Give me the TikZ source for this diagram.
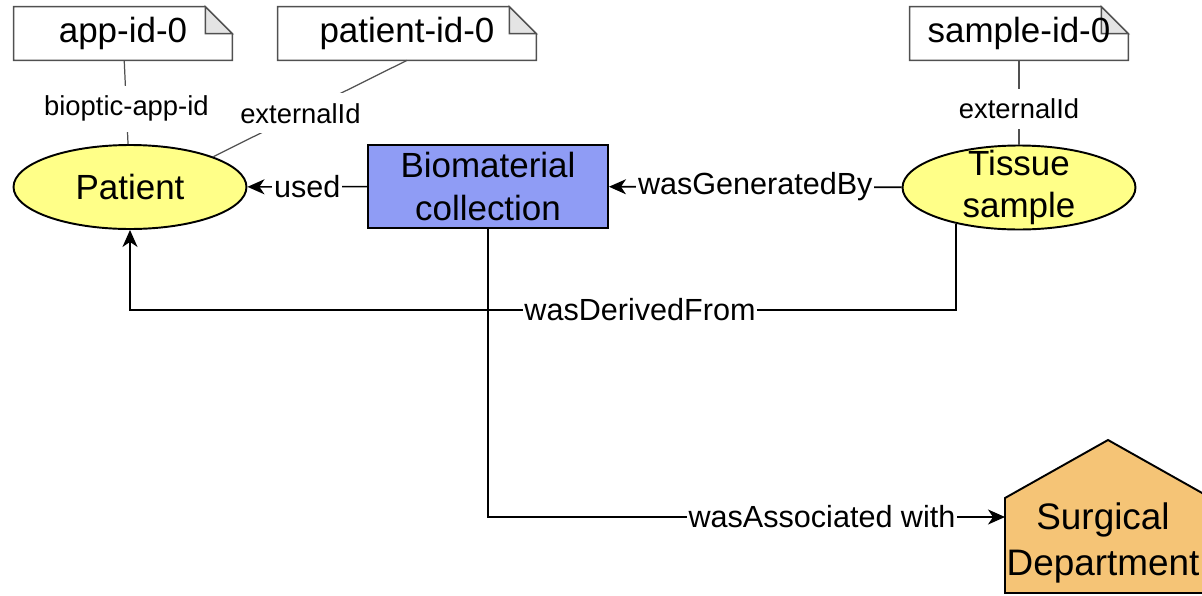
\documentclass[tikz,border=0pt]{standalone}
\usepackage{fontspec}
\setmainfont{Liberation Sans}
\usetikzlibrary{arrows.meta,shapes.geometric,backgrounds}
\definecolor{entyellow}{RGB}{255,255,136}
\definecolor{actblue}{RGB}{143,156,245}
\definecolor{agentorange}{RGB}{245,196,118}
\definecolor{foldgray}{RGB}{228,228,228}
\definecolor{notegray}{RGB}{80,80,80}

\begin{document}
\begin{tikzpicture}[x=0.02cm,y=-0.02cm,
    entity/.style={ellipse,draw,line width=1.1pt,fill=entyellow,minimum width=4.66cm,minimum height=1.68cm,inner sep=0pt},
    maintext/.style={align=center,font=\fontsize{19.9}{24}\selectfont},
    activity/.style={rectangle,draw,line width=1.1pt,fill=actblue,minimum width=4.8cm,minimum height=1.66cm,inner sep=0pt,maintext},
    agent/.style={rectangle,inner sep=0pt,align=center,font=\fontsize{21}{26}\selectfont},
    idnote/.style={rectangle,minimum height=1.06cm,inner sep=0pt,font=\fontsize{19.9}{24}\selectfont},
    notepen/.style={line width=0.8pt,draw=notegray},
    attr/.style={fill=white,inner xsep=0pt,inner ysep=0.2cm,font=\fontsize{15.6}{18}\selectfont},
    attrline/.style={line width=0.7pt,draw=notegray},
    rel/.style={fill=white,inner xsep=1pt,inner ysep=2pt,font=\fontsize{17.4}{21}\selectfont},
    link/.style={line width=0.9pt,-{Stealth[length=0.34cm,width=0.3cm,inset=0.1cm]}}]
\useasboundingbox (0,0) rectangle (1202,595);

% id notes
\node[idnote,minimum width=4.36cm] (appnote) at (123,33.5) {app-id-0};
\node[idnote,minimum width=5.16cm] (patnote) at (407,33.5) {patient-id-0};
\node[idnote,minimum width=4.36cm] (smpnote) at (1019,33.5) {sample-id-0};
\begin{scope}[on background layer]
\foreach \n in {appnote,patnote,smpnote}{
  \draw[notepen,fill=white] (\n.south west) -- (\n.north west) -- ([xshift=-0.54cm]\n.north east)
    -- ([yshift=-0.54cm]\n.north east) -- (\n.south east) -- cycle;
  \draw[notepen,fill=foldgray] ([xshift=-0.54cm]\n.north east) -- ([xshift=-0.54cm,yshift=-0.54cm]\n.north east)
    -- ([yshift=-0.54cm]\n.north east) -- cycle;
}
\end{scope}

% entities, activity, agent
\node[entity,label={[maintext]center:Patient}] (patient) at (130,187) {};
\node[entity,label={[maintext]center:Tissue\\sample}] (tissue) at (1019,187.5) {};
\node[activity] (bio) at (488,186.5) {Biomaterial\\collection};

\draw[line width=1.1pt,fill=agentorange] (1005,593) -- (1005,498) -- (1108,440) -- (1211,498) -- (1211,593) -- cycle;
\coordinate (surgwest) at (1005,545.5);
\node[agent] (surg) at (1103,543) {Surgical\\Department};

% attributes
\draw[attrline] (appnote) -- node[attr,pos=0.58] {bioptic-app-id} (patient);
\draw[attrline] (patnote.south) -- node[attr,pos=0.55] {externalId} (patient.20);
\draw[attrline] (smpnote) -- node[attr,pos=0.58] {externalId} (tissue);

% relations
\draw[link] (bio) -- node[rel] {used} (patient);
\draw[link] (tissue) -- node[rel] {wasGeneratedBy} (bio);

\coordinate (drv) at (640,310);
\draw[link] (tissue.210.5) |- (drv) -| (patient.south);
\node[rel] (drvlbl) at (drv) {wasDerivedFrom};

\coordinate (asc) at (822,517);
\draw[link] (bio.south) |- (surgwest |- asc);
\node[rel] (asclbl) at (asc) {wasAssociated with};
\end{tikzpicture}
\end{document}
